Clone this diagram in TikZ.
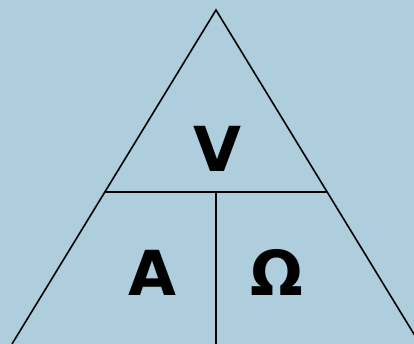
\documentclass[tikz,border=0pt]{standalone}
\usepackage{fontspec}
\setmainfont{DejaVu Sans}
\usetikzlibrary{calc}
\definecolor{bgblue}{RGB}{174,206,222}

\begin{document}
\begin{tikzpicture}[
    x=1pt, y=-1pt,
    % ---- styles -------------------------------------------------
    edge/.style={draw=black, line width=1.6pt},
    unit/.style={font=\fontsize{62}{62}\selectfont\bfseries, inner sep=0pt, anchor=base},
]
\fill[bgblue] (0,0) rectangle (414,344);
\useasboundingbox (0,0) rectangle (414,344);

% =================== triangle ===============================
\coordinate (apex)  at (216,10);
\coordinate (left)  at (12,344);
\coordinate (right) at (420,344);
\coordinate (midL)  at ($(apex)!0.545!(left)$);
\coordinate (midR)  at ($(apex)!0.545!(right)$);
\coordinate (midC)  at ($(midL)!0.5!(midR)$);
\coordinate (foot)  at (216,344);

\draw[edge] (left) -- (apex) -- (right);
\draw[edge] (midL) -- (midR);
\draw[edge] (midC) -- (foot);

% =================== labels =================================
\node[unit] (volt) at (217,172) {V};
\node[unit] (amp)  at (152,295) {A};
\node[unit] (ohm)  at (277,295) {Ω};

\end{tikzpicture}
\end{document}
